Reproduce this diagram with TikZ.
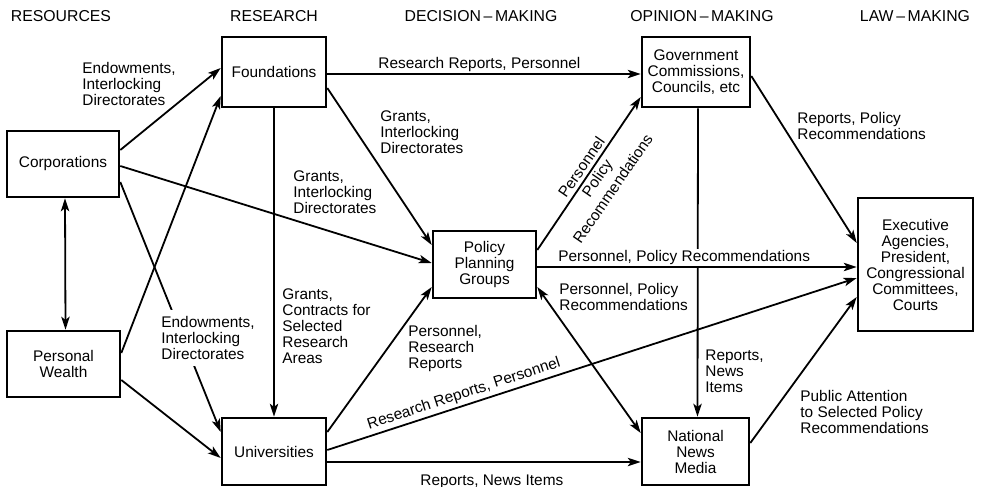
\documentclass[tikz,border=0pt]{standalone}
\usepackage{fontspec}
\setmainfont{Liberation Sans}
\usetikzlibrary{arrows.meta}
\begin{document}
\begin{tikzpicture}[x=0.5pt,y=-0.5pt,
  >={Stealth[length=6.5pt,width=4.2pt,inset=1.6pt]},
  box/.style={draw, line width=1.3pt, fill=white, align=center, inner sep=0pt,
    font=\fontsize{7.7}{8}\selectfont},
  flow/.style={line width=0.9pt, ->},
  twoway/.style={line width=0.9pt, <->},
  lbl/.style={anchor=north west, align=left, inner sep=0pt,
    font=\fontsize{7.7}{8}\selectfont},
  head/.style={anchor=base, inner sep=0pt, font=\fontsize{7.9}{8}\selectfont}
]
\useasboundingbox[fill=white] (0,0) rectangle (981,487);

% column headings
\node[head] (hres) at (61,21)  {RESOURCES};
\node[head] (hrch) at (274,21) {RESEARCH};
\node[head] (hdec) at (481,21) {DECISION\,--\,MAKING};
\node[head] (hopi) at (702,21) {OPINION\,--\,MAKING};
\node[head] (hlaw) at (915,21) {LAW\,--\,MAKING};

% institutions
\node[box, minimum width=56pt,   minimum height=33pt]   (corp)   at (63,164)    {Corporations};
\node[box, minimum width=56.5pt, minimum height=33pt]   (wealth) at (63.5,364)  {Personal\\Wealth};
\node[box, minimum width=52pt,   minimum height=35pt]   (found)  at (274,72)    {Foundations};
\node[box, minimum width=52pt,   minimum height=33.5pt] (univ)   at (274,451.5) {Universities};
\node[box, minimum width=51.5pt, minimum height=33.5pt] (policy) at (484.5,264.5) {Policy\\Planning\\Groups};
\node[box, minimum width=54pt,   minimum height=35pt]   (gov)    at (696,72)    {Government\\Commissions,\\Councils, etc};
\node[box, minimum width=53.5pt, minimum height=33.5pt] (news)   at (695.5,451.5) {National\\News\\Media};
\node[box, minimum width=57.5pt, minimum height=66.5pt] (exec)   at (915.5,264.5) {Executive\\Agencies,\\President,\\Congressional\\Committees,\\Courts};

% flows out of the resources column
\draw[twoway] ([xshift=1pt]corp.south) -- ([xshift=1pt]wealth.north);
\draw[flow] ([yshift=7pt]corp.east)   -- ([yshift=2pt]found.west);
\draw[flow] ([yshift=-1pt]corp.east)  -- ([yshift=0.75pt]policy.west);
\draw[flow] ([yshift=-9pt]corp.east)  -- ([yshift=9.75pt]univ.west);
\draw[flow] ([yshift=5.5pt]wealth.east) -- ([yshift=-12pt]found.west);
\draw[flow] ([yshift=-8pt]wealth.east)  -- ([yshift=-3.25pt]univ.west);

% flows out of the research column
\draw[flow] ([yshift=-1pt]found.east) -- ([yshift=-1pt]gov.west);
\draw[flow] ([yshift=-8pt]found.east) -- ([yshift=9.75pt]policy.west);
\draw[flow] (found.south) -- (univ.north);
\draw[flow] ([yshift=9.75pt]univ.east) -- ([yshift=-11.25pt]policy.west);
\draw[flow] ([yshift=0.75pt]univ.east) -- ([yshift=-6.75pt]exec.west);
\draw[flow] ([yshift=-5.25pt]univ.east) -- ([yshift=-5.25pt]news.west);

% flows out of the decision-making column
\draw[flow] ([yshift=7.25pt]policy.east) -- ([yshift=-12.5pt]gov.west);
\draw[flow] ([yshift=-1.25pt]policy.east) -- ([yshift=-1.25pt]exec.west);
\draw[twoway] ([yshift=-11.25pt]policy.east) -- ([yshift=9.25pt]news.west);

% flows out of the opinion-making column
\draw[flow] ([xshift=1pt]gov.south) -- ([xshift=1pt]news.north);
\draw[flow] ([yshift=-2pt]gov.east) -- ([yshift=10.75pt]exec.west);
\draw[flow] ([yshift=4.25pt]news.east) -- ([yshift=-16.25pt]exec.west);

% connector labels
\node[lbl] (l1) at (82,62)   {Endowments,\\Interlocking\\Directorates};
\node[lbl, fill=white, inner sep=3pt] (l4) at (155,310) {Endowments,\\Interlocking\\Directorates};
\node[lbl] (l2) at (380,110) {Grants,\\Interlocking\\Directorates};
\node[lbl] (l3) at (293,170) {Grants,\\Interlocking\\Directorates};
\node[lbl] (l5) at (282,288) {Grants,\\Contracts for\\Selected\\Research\\Areas};
\node[lbl] (l6) at (408,325) {Personnel,\\Research\\Reports};
\node[lbl] (l9) at (378,57)  {Research Reports, Personnel};
\node[lbl] (l8) at (420,475) {Reports, News Items};
\node[lbl, fill=white, inner xsep=1pt, inner ysep=0.5pt] (l11) at (556,249) {Personnel, Policy Recommendations};
\node[lbl] (l12) at (559,283) {Personnel, Policy\\Recommendations};
\node[lbl] (l13) at (797,112) {Reports, Policy\\Recommendations};
\node[lbl] (l14) at (705,350) {Reports,\\News\\Items};
\node[lbl] (l15) at (800,390) {Public Attention\\to Selected Policy\\Recommendations};
\node[inner sep=0pt, rotate=18.1, font=\fontsize{7.7}{8}\selectfont] (l7) at (464,394) {Research Reports, Personnel};
\node[inner sep=0pt, rotate=55.5, align=center, font=\fontsize{7.7}{9.5}\selectfont] (l10) at (597,178) {Personnel\\Policy\\Recommendations};
\end{tikzpicture}
\end{document}
